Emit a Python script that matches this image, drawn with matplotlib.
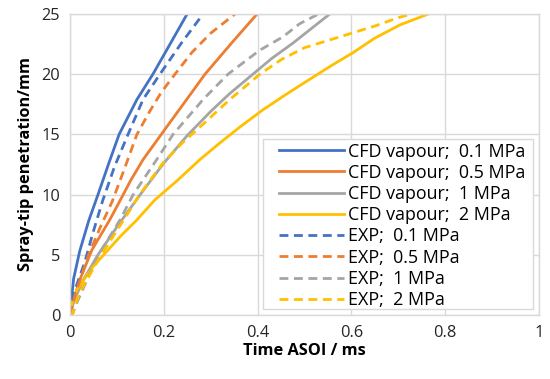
import matplotlib.pyplot as plt
from matplotlib.patches import Rectangle

# CFD vapour penetration (solid lines)
t_cfd_01 = [0, 0.008, 0.021, 0.04, 0.06, 0.083, 0.105, 0.143, 0.177, 0.215, 0.250]
s_cfd_01 = [0, 3.0, 5.3, 7.8, 10.0, 12.6, 15.0, 17.9, 20.0, 22.6, 25]

t_cfd_05 = [0, 0.010, 0.021, 0.047, 0.085, 0.107, 0.130, 0.156, 0.206, 0.249, 0.288, 0.345, 0.399]
s_cfd_05 = [0, 1.5, 2.9, 5.4, 7.9, 9.5, 11.2, 12.9, 15.6, 17.9, 20.0, 22.6, 25]

t_cfd_1 = [0, 0.01, 0.03, 0.06, 0.10, 0.15, 0.20, 0.25, 0.30, 0.341, 0.384, 0.430, 0.476, 0.515, 0.554]
s_cfd_1 = [0, 1.3, 3.0, 5.0, 7.3, 10.0, 12.6, 14.9, 16.9, 18.4, 19.8, 21.3, 22.6, 23.8, 25]

t_cfd_2 = [0, 0.006, 0.015, 0.049, 0.107, 0.143, 0.181, 0.23, 0.277, 0.32, 0.362, 0.41,
           0.46, 0.50, 0.561, 0.604, 0.65, 0.704, 0.764]
s_cfd_2 = [0, 1.2, 2.1, 4.0, 6.5, 7.9, 9.55, 11.2, 12.9, 14.3, 15.6, 17.0,
           18.3, 19.3, 20.8, 21.8, 23.0, 24.1, 25]

# experiment (dashed lines)
t_exp_01 = [0, 0.011, 0.032, 0.049, 0.070, 0.095, 0.124, 0.156, 0.192, 0.238, 0.284]
s_exp_01 = [0, 2.1, 4.4, 6.8, 9.5, 12.3, 15.0, 17.9, 20.0, 22.6, 25]

t_exp_05 = [0, 0.012, 0.040, 0.065, 0.090, 0.115, 0.143, 0.170, 0.195, 0.224, 0.260, 0.300, 0.352]
s_exp_05 = [0, 1.8, 5.0, 7.3, 9.4, 12.0, 15.0, 16.9, 18.5, 20.0, 21.8, 23.4, 25]

t_exp_1 = [0, 0.005, 0.017, 0.058, 0.107, 0.135, 0.185, 0.22, 0.284, 0.337, 0.405, 0.454, 0.49, 0.53]
s_exp_1 = [0, 0, 1.2, 4.8, 7.9, 10.0, 12.9, 15.0, 17.9, 20.0, 22.0, 23.1, 24.2, 25]

t_exp_2 = [0, 0.005, 0.02, 0.064, 0.10, 0.128, 0.149, 0.198, 0.24, 0.277, 0.341, 0.405,
           0.45, 0.50, 0.55, 0.60, 0.65, 0.70, 0.728]
s_exp_2 = [0, 0, 1.8, 4.8, 7.0, 8.7, 10.0, 12.6, 14.3, 15.6, 17.9, 20.0,
           21.2, 22.2, 22.8, 23.4, 24.0, 24.7, 25]

labels_cfd = ["CFD vapour;  0.1 MPa", "CFD vapour;  0.5 MPa", "CFD vapour;  1 MPa", "CFD vapour;  2 MPa"]
labels_exp = ["EXP;  0.1 MPa", "EXP;  0.5 MPa", "EXP;  1 MPa", "EXP;  2 MPa"]
colors = ["#4472C4", "#ED7D31", "#A5A5A5", "#FFC000"]

plt.rcParams['font.family'] = ['Open Sans', 'DejaVu Sans']

fig = plt.figure(figsize=(5.5, 3.79), dpi=100)
ax = fig.add_axes([0.127, 0.169, 0.853, 0.794])

cfd = [(t_cfd_01, s_cfd_01), (t_cfd_05, s_cfd_05), (t_cfd_1, s_cfd_1), (t_cfd_2, s_cfd_2)]
exp = [(t_exp_01, s_exp_01), (t_exp_05, s_exp_05), (t_exp_1, s_exp_1), (t_exp_2, s_exp_2)]

for (t, s), c, lab in zip(cfd, colors, labels_cfd):
    ax.plot(t, s, color=c, lw=2.0, label=lab)
for (t, s), c, lab in zip(exp, colors, labels_exp):
    ax.plot(t, s, color=c, lw=2.0, ls=(0, (3.2, 2.0)), label=lab)

ax.set_xlim(0, 1)
ax.set_ylim(0, 25)
ax.set_xticks([0, 0.2, 0.4, 0.6, 0.8, 1])
ax.set_xticklabels(["0", "0.2", "0.4", "0.6", "0.8", "1"])
ax.set_yticks([0, 5, 10, 15, 20, 25])
ax.grid(True, color="#D9D9D9", lw=1.0)
ax.set_axisbelow(True)
for sp in ax.spines.values():
    sp.set_color("#D9D9D9")
    sp.set_linewidth(1.0)
ax.tick_params(length=0, labelsize=11.8, colors="#262626", pad=7)

ax.set_xlabel("Time ASOI / ms", fontsize=11.8, fontweight="bold", labelpad=2)
ax.set_ylabel("Spray-tip penetration/mm", fontsize=11.8, fontweight="bold", labelpad=5)

# legend box drawn separately so the padding matches the original
ax.add_patch(Rectangle((0.4115, 0.02), 0.576, 0.565, transform=ax.transAxes,
                       facecolor="white", edgecolor="#D9D9D9", lw=1.0, zorder=4))
leg = ax.legend(loc="upper left", bbox_to_anchor=(0.445, 0.573), fontsize=12.9,
                frameon=False, handlelength=3.63, handletextpad=0.27, labelspacing=0.18,
                borderpad=0, borderaxespad=0)
leg.set_zorder(5)

plt.savefig("out.png", dpi=100)
